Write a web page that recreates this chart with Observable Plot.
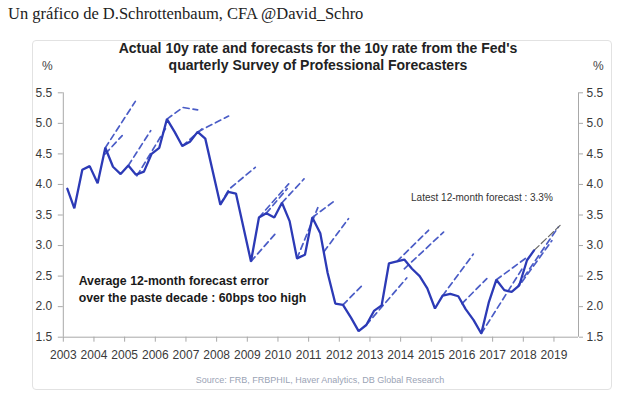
<!DOCTYPE html>
<html><head><meta charset="utf-8">
<script src="https://cdn.jsdelivr.net/npm/d3@7"></script>
<script src="https://cdn.jsdelivr.net/npm/@observablehq/plot@0.6"></script>
<style>
html,body{margin:0;padding:0;background:#fff}
body{width:626px;height:399px;position:relative;overflow:hidden}
#hdr{position:absolute;left:8px;top:4px;font-family:"Liberation Serif","DejaVu Serif",serif;font-size:16.5px;color:#222;white-space:nowrap}
#card{position:absolute;left:32px;top:40px;width:580px;height:350px;border:1px solid #e2e2e2;border-radius:4px;box-sizing:border-box}
#title{position:absolute;left:0;width:636px;top:40px;text-align:center;font:bold 14px "Liberation Sans",Arial,sans-serif;line-height:17px;color:#222}
.pct{position:absolute;top:59px;font:12px "Liberation Sans",Arial,sans-serif;color:#444}
#source{position:absolute;left:0;width:640px;top:375px;text-align:center;font:9px "Liberation Sans",Arial,sans-serif;color:#9aa3b5}
#chart{position:absolute;left:0;top:0}
</style></head>
<body>
<div id="hdr">Un gráfico de D.Schrottenbaum, CFA @David_Schro</div>
<div id="card"></div>
<div id="title">Actual 10y rate and forecasts for the 10y rate from the Fed's<br>quarterly Survey of Professional Forecasters</div>
<div class="pct" style="left:42px">%</div>
<div class="pct" style="left:593px">%</div>
<div id="chart"></div>
<div id="source">Source: FRB, FRBPHIL, Haver Analytics, DB Global Research</div>
<script>
// Actual 10y rate (quarterly)
const actualYear = [2003.13,2003.36,2003.62,2003.86,2004.12,2004.37,2004.62,2004.87,2005.12,2005.37,2005.63,2005.88,
  2006.13,2006.38,2006.63,2006.88,2007.13,2007.38,2007.63,2008.12,2008.38,2008.63,2009.12,2009.38,2009.62,2009.88,
  2010.13,2010.38,2010.62,2010.88,2011.12,2011.38,2011.62,2011.87,2012.12,2012.38,2012.63,2012.88,2013.13,2013.38,
  2013.62,2013.88,2014.12,2014.37,2014.62,2014.87,2015.12,2015.37,2015.62,2015.88,2016.12,2016.38,2016.63,2016.88,
  2017.12,2017.38,2017.62,2017.87,2018.12,2018.35];
const actualRate = [3.93,3.61,4.24,4.30,4.02,4.60,4.29,4.17,4.31,4.16,4.21,4.50,
  4.60,5.07,4.86,4.63,4.70,4.86,4.75,3.67,3.88,3.85,2.74,3.46,3.53,3.46,
  3.70,3.40,2.79,2.85,3.46,3.20,2.55,2.05,2.03,1.82,1.60,1.70,1.93,2.02,
  2.71,2.74,2.77,2.62,2.50,2.30,1.97,2.18,2.21,2.17,1.96,1.78,1.56,2.08,
  2.44,2.27,2.24,2.35,2.76,2.92];

// Survey forecasts (each path: start point -> 12-month-ahead forecast)
const fcId   = [1,1, 2,2, 3,3, 4,4, 5,5,5, 6,6, 7,7, 8,8,8, 9,9, 10,10, 11,11, 12,12, 13,13, 14,14, 15,15, 16,16, 17,17, 18,18, 19,19, 20,20, 21,21, 22,22, 23,23, 24,24, 25,25];
const fcYear = [2004.37,2005.35, 2004.37,2004.92, 2005.12,2005.85, 2005.40,2006.33, 2006.38,2006.90,2007.38, 2006.88,2007.55, 2007.38,2008.39,
  2008.12,2008.40,2009.26, 2009.12,2009.91, 2009.38,2010.35, 2009.62,2010.30, 2010.13,2010.85, 2010.62,2011.30, 2011.12,2011.87,
  2011.50,2012.30, 2012.12,2012.79, 2012.88,2014.20, 2013.88,2014.91, 2014.12,2015.40, 2015.37,2016.37, 2016.00,2016.81,
  2016.63,2018.00, 2017.12,2018.10, 2017.84,2019.14, 2017.95,2018.93];
const fcRate = [4.60,5.36, 4.50,4.80, 4.31,4.88, 4.14,4.91, 5.07,5.26,5.22, 4.63,4.92, 4.86,5.12,
  3.67,3.92,4.28, 2.74,3.19, 3.46,4.01, 3.53,3.93, 3.70,4.09, 2.79,3.62, 3.46,3.74,
  2.90,3.44, 2.03,2.37, 1.70,2.47, 2.74,3.25, 2.62,3.22, 2.18,2.86, 2.05,2.46,
  1.56,2.65, 2.44,2.80, 2.35,3.30, 2.40,3.08];

// Latest 12-month forecast
const latestYear = [2018.35,2019.20];
const latestRate = [2.92,3.33];

const yTicks = [1.5,2.0,2.5,3.0,3.5,4.0,4.5,5.0,5.5];
const xTicks = [2003,2004,2005,2006,2007,2008,2009,2010,2011,2012,2013,2014,2015,2016,2017,2018,2019];

const actual = actualYear.map((x,i)=>({x, y: actualRate[i]}));
const fc = fcYear.map((x,i)=>({id: fcId[i], x, y: fcRate[i]}));
const latest = latestYear.map((x,i)=>({x, y: latestRate[i]}));

const chart = Plot.plot({
  width: 626, height: 399,
  marginLeft: 62.8, marginRight: 48, marginTop: 92.3, marginBottom: 62.3,
  x: {domain: [2003, 2019.8]},
  y: {domain: [1.5, 5.5]},
  style: {fontFamily: "'Liberation Sans', Arial, sans-serif", fontSize: "12px", background: "transparent", color: "#3a3a3a"},
  marks: [
    Plot.ruleX([2003, 2019.8], {stroke: "#a8a8a8", strokeWidth: 1}),
    Plot.ruleY([1.5], {stroke: "#a8a8a8", strokeWidth: 1}),
    Plot.axisY(yTicks, {anchor: "left", tickSize: 5, tickPadding: 6, tickFormat: d => d.toFixed(1), label: null, stroke: "#a8a8a8", fill: "#3a3a3a", fontSize: 12}),
    Plot.axisY(yTicks, {anchor: "right", tickSize: 4, tickPadding: 4, tickFormat: d => d.toFixed(1), label: null, stroke: "#a8a8a8", fill: "#3a3a3a", fontSize: 12}),
    Plot.axisX(xTicks, {anchor: "bottom", tickSize: 5, tickPadding: 8, tickFormat: d => String(d), label: null, stroke: "#a8a8a8", fill: "#3a3a3a", fontSize: 12}),
    Plot.line(fc, {x: "x", y: "y", z: "id", stroke: "#4a5cc6", strokeWidth: 1.7, strokeDasharray: "6,4"}),
    Plot.line(latest, {x: "x", y: "y", stroke: "#666", strokeWidth: 1.2, strokeDasharray: "7,3"}),
    Plot.line(actual, {x: "x", y: "y", stroke: "#2c3ab6", strokeWidth: 2.3, strokeLinejoin: "miter"}),
    Plot.text(["Average 12-month forecast error\nover the paste decade : 60bps too high"], {x: 2003.5, y: 2.305, text: d => d, textAnchor: "start", fontWeight: "bold", fontSize: 12.3, lineHeight: 1.38, fill: "#1a1a1a"}),
    Plot.text(["Latest 12-month forecast : 3.3%"], {x: 2014.34, y: 3.786, text: d => d, textAnchor: "start", fontSize: 10, fill: "#333", fontFamily: "'Liberation Sans Narrow', 'Arial Narrow', sans-serif"})
  ]
});
document.getElementById("chart").appendChild(chart);
</script>
</body></html>
